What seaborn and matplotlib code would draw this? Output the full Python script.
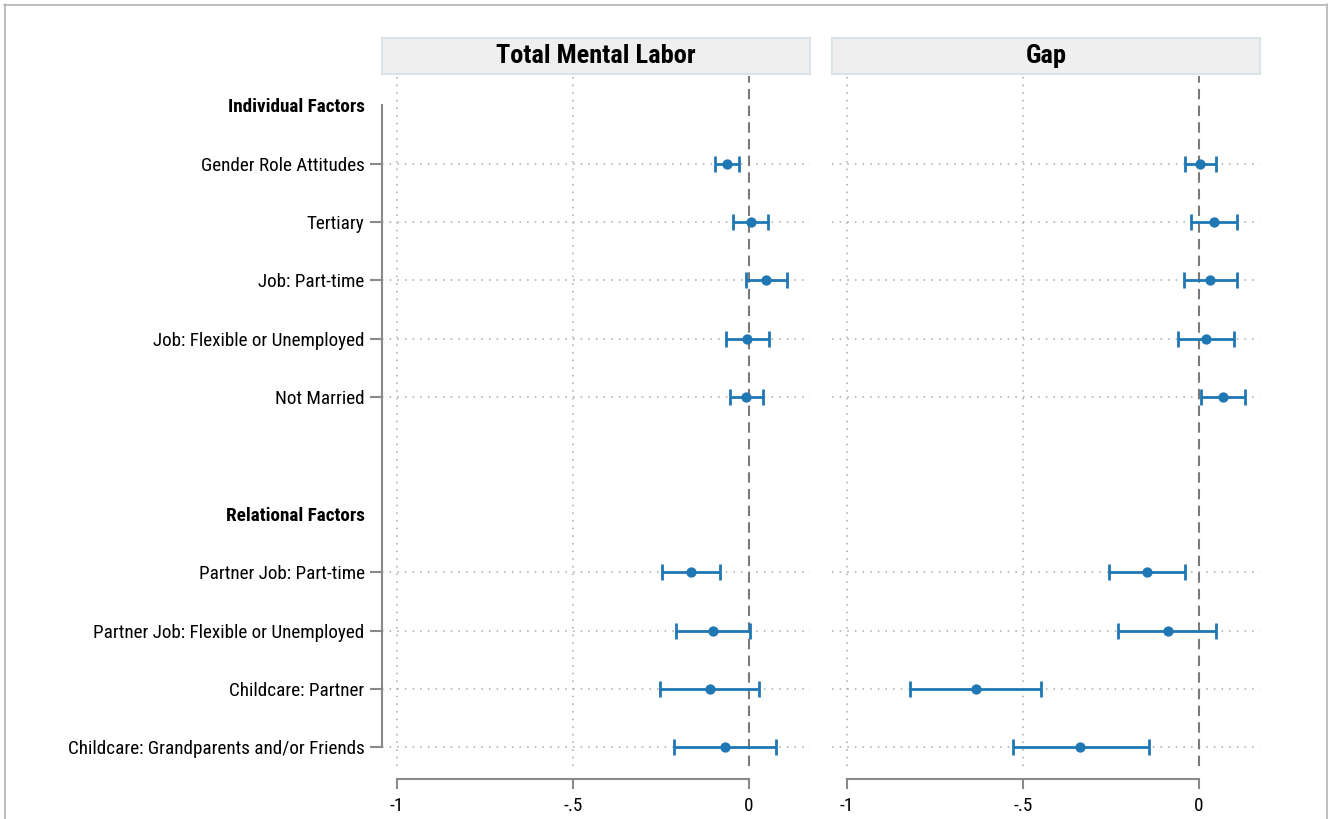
import matplotlib
matplotlib.use("Agg")
import matplotlib.pyplot as plt
from matplotlib.patches import Rectangle
from matplotlib.lines import Line2D
from matplotlib import font_manager as fm
import seaborn as sns
import pandas as pd
import numpy as np
import os

sns.set_theme(style="white")

# pick a condensed face if one is installed
chosen = None
stretch = "normal"
for fam, st in [("Roboto Condensed", "normal"), ("Liberation Sans Narrow", "normal"),
                ("Arial Narrow", "normal"), ("Open Sans Condensed", "normal"),
                ("DejaVu Sans", "condensed"), ("Roboto", "condensed"),
                ("Noto Sans", "condensed"), ("Open Sans", "condensed")]:
    try:
        p = fm.findfont(fm.FontProperties(family=fam, stretch=st), fallback_to_default=False)
        name = os.path.basename(p).lower()
        if st == "normal" or ("cond" in name or "narrow" in name):
            chosen, stretch = fam, st
            break
    except Exception:
        pass
if chosen is None:
    chosen = "Roboto"
FONT = [chosen, "DejaVu Sans"]
plt.rcParams['font.family'] = FONT
plt.rcParams['font.stretch'] = stretch
plt.rcParams['text.color'] = "black"
plt.rcParams['xtick.color'] = "#8a8a8a"
plt.rcParams['ytick.color'] = "#8a8a8a"
plt.rcParams['xtick.labelcolor'] = "black"
plt.rcParams['ytick.labelcolor'] = "black"

# ---------------- data ----------------
row_labels = ["Individual Factors", "Gender Role Attitudes", "Tertiary", "Job: Part-time",
              "Job: Flexible or Unemployed", "Not Married", "",
              "Relational Factors", "Partner Job: Part-time",
              "Partner Job: Flexible or Unemployed", "Childcare: Partner",
              "Childcare: Grandparents and/or Friends"]
header_labels = ["Individual Factors", "Relational Factors"]
variables = ["Gender Role Attitudes", "Tertiary", "Job: Part-time",
             "Job: Flexible or Unemployed", "Not Married",
             "Partner Job: Part-time", "Partner Job: Flexible or Unemployed",
             "Childcare: Partner", "Childcare: Grandparents and/or Friends"]

panels = ["Total Mental Labor", "Gap"]

tml_coef = [-0.061, 0.006, 0.051, -0.003, -0.006, -0.164, -0.101, -0.110, -0.066]
tml_lo   = [-0.094, -0.045, -0.006, -0.063, -0.052, -0.245, -0.207, -0.251, -0.213]
tml_hi   = [-0.026, 0.056, 0.109, 0.057, 0.042, -0.082, 0.005, 0.030, 0.079]

gap_coef = [0.004, 0.044, 0.034, 0.022, 0.069, -0.147, -0.088, -0.633, -0.336]
gap_lo   = [-0.039, -0.022, -0.040, -0.057, 0.007, -0.254, -0.229, -0.820, -0.528]
gap_hi   = [0.050, 0.110, 0.110, 0.102, 0.131, -0.039, 0.051, -0.447, -0.141]

x_ticks = [-1, -0.5, 0]
x_ticklabels = ["-1", "-.5", "0"]

# ---------------- build table ----------------
rows = []
for panel, c, lo, hi in [(panels[0], tml_coef, tml_lo, tml_hi),
                         (panels[1], gap_coef, gap_lo, gap_hi)]:
    for v, ci, l, h in zip(variables, c, lo, hi):
        rows.append(dict(panel=panel, variable=v, pos=row_labels.index(v),
                         coef=ci, lo=l, hi=h))
df = pd.DataFrame(rows)

# ---------------- figure ----------------
W, H = 1328, 819
fig = plt.figure(figsize=(W / 100, H / 100), dpi=100)
fig.patch.set_facecolor("white")

def fx(px):
    return px / W

def fy(py):
    return 1 - py / H

condensed = chosen != "Roboto"
lab_fs = 13.8 if condensed else 12.5
ax_top, ax_bot = 76, 766
panel_x = [(382, 810), (832, 1260)]
color = "#1f77b4"
grid_c = "#a8a8a8"

axes = []
for i, (x0, x1) in enumerate(panel_x):
    ax = fig.add_axes([fx(x0), fy(ax_bot), fx(x1 - x0), (ax_bot - ax_top) / H])
    axes.append(ax)
    sub = df[df.panel == panels[i]]

    # gridlines
    for p in sub.pos:
        ax.axhline(p, color=grid_c, lw=1.1, ls=(0, (1, 4)), zorder=0)
    for xv in x_ticks[:-1]:
        ax.axvline(xv, color=grid_c, lw=1.1, ls=(0, (1, 4)), zorder=0)
    ax.axvline(0, color="#7a7a7a", lw=1.5, ls=(0, (5, 3)), zorder=1)

    ax.errorbar(sub.coef, sub.pos,
                xerr=[sub.coef - sub.lo, sub.hi - sub.coef],
                fmt="none", ecolor=color, elinewidth=2.0, capsize=6,
                capthick=2.0, zorder=3)
    sns.scatterplot(data=sub, x="coef", y="pos", ax=ax, color=color, s=55,
                    edgecolor=color, linewidth=0, zorder=4, legend=False)

    ax.set_xlim(-1.043, 0.175)
    ax.set_ylim(11.32, -0.5)
    ax.set_xlabel("")
    ax.set_ylabel("")
    for s in ["top", "right"]:
        ax.spines[s].set_visible(False)
    ax.spines["bottom"].set_position(("outward", 9))
    ax.spines["bottom"].set_bounds(-1, 0)
    ax.spines["bottom"].set_color("#8a8a8a")
    ax.spines["bottom"].set_linewidth(1.5)
    ax.set_xticks(x_ticks)
    ax.set_xticklabels(x_ticklabels, fontsize=lab_fs, family=FONT, stretch=stretch)
    ax.tick_params(axis="x", direction="out", length=7, width=1.5,
                   pad=6, bottom=True)

    if i == 0:
        ax.spines["left"].set_bounds(0, 11)
        ax.spines["left"].set_color("#8a8a8a")
        ax.spines["left"].set_linewidth(1.5)
        ax.set_yticks(range(len(row_labels)))
        ax.set_yticklabels(row_labels, fontsize=lab_fs, family=FONT, stretch=stretch)
        ax.tick_params(axis="y", direction="out", length=9, width=1.5,
                       pad=3.5, left=True)
        for lab, tick in zip(row_labels, ax.yaxis.get_major_ticks()):
            if lab in header_labels or lab == "":
                tick.tick1line.set_visible(False)
            if lab in header_labels:
                tick.label1.set_fontweight("bold")
    else:
        ax.spines["left"].set_visible(False)
        ax.set_yticks([])

    # strip
    fig.add_artist(Rectangle((fx(x0), fy(74)), fx(x1 - x0), (74 - 38) / H,
                             transform=fig.transFigure, facecolor="#efefef",
                             edgecolor="#dae4e8", lw=1.5))
    fig.text(fx((x0 + x1) / 2), fy(56), panels[i], ha="center", va="center",
             fontsize=19 if condensed else 17, fontweight="bold", family=FONT,
             stretch=stretch)

# figure border
bc = "#b4b4b4"
fig.add_artist(Line2D([fx(4), fx(1327)], [fy(4.5), fy(4.5)], color=bc, lw=1.2,
                      transform=fig.transFigure))
fig.add_artist(Line2D([fx(4.5), fx(4.5)], [fy(4), fy(819)], color=bc, lw=1.2,
                      transform=fig.transFigure))
fig.add_artist(Line2D([fx(1326.5), fx(1326.5)], [fy(4), fy(819)], color=bc, lw=1.2,
                      transform=fig.transFigure))

fig.savefig("out.png", dpi=100, facecolor="white")
